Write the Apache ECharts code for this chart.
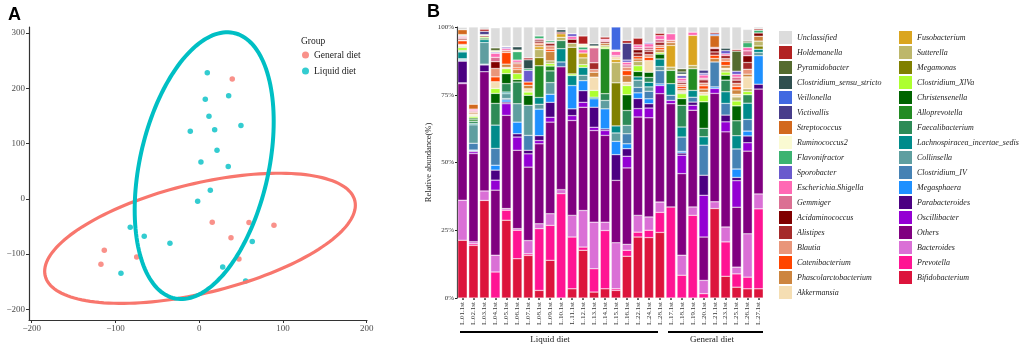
<!DOCTYPE html>
<html>
<head>
<meta charset="utf-8">
<script src="https://cdn.jsdelivr.net/npm/echarts@6.0.0/dist/echarts.min.js"></script>
<style>
  html, body { margin: 0; padding: 0; background: #fff; }
  #chart { width: 1021px; height: 347px; }
</style>
</head>
<body>
<div id="chart"></div>
<script>
// ---- Panel A: PCoA scores ----
const generalX = [39.5, 15.6, 59.5, 89.3, 38, 47.5, -113.3, -117.3, -74.6];
const generalY = [216.7, -42.4, -43.1, -47.8, -70.3, -108.9, -93.1, -118.5, -105.3];
const liquidX = [9.7, 7.3, 35.2, 11.7, 49.9, -10.6, 18.5, 21.3, 2.1, 34.7, 13.3, -1.8, -82.3, -65.6, -34.9, 63.4, -93.4, 28.1, 55.5];
const liquidY = [228.1, 180.4, 186.4, 149.6, 132.6, 122.5, 124.8, 88, 66.8, 58.3, 15.6, -4.3, -51.4, -67.8, -80.4, -77.5, -134.8, -123.4, -148.7];

// confidence ellipses: centre, spread and correlation (General, Liquid)
const ellipseCx = [1, 6];
const ellipseCy = [-71.5, 60];
const ellipseSx = [185.5, 83];
const ellipseSy = [117.8, 241.5];
const ellipseR = [0.508, 0.331];

const xTicksA = [-200, -100, 0, 100, 200];
const yTicksA = [-200, -100, 0, 100, 200, 300];

// ---- Panel B: relative abundance ----
const samples = ['L.01.1st', 'L.02.1st', 'L.03.1st', 'L.04.1st', 'L.05.1st', 'L.06.1st', 'L.07.1st',
  'L.08.1st', 'L.09.1st', 'L.10.1st', 'L.11.1st', 'L.12.1st', 'L.13.1st', 'L.14.1st', 'L.15.1st',
  'L.16.1st', 'L.22.1st', 'L.24.1st', 'L.28.1st', 'L.17.1st', 'L.18.1st', 'L.19.1st', 'L.20.1st',
  'L.21.1st', 'L.23.1st', 'L.25.1st', 'L.26.1st', 'L.27.1st'];

const bifidobacterium = [21.3, 19.4, 36, 0, 28.7, 14.5, 15.7, 2.8, 13.9, 0, 3.4, 17.6, 2.2, 3.4, 2.8, 15.4, 22.5, 22.3, 24.2, 0, 0, 0, 0, 33, 8, 4, 3.4, 3.4];
const prevotella = [0, 0.6, 0, 9.6, 3.7, 10.5, 0.6, 22.8, 12.9, 38.5, 19.1, 1.2, 8.6, 21.5, 0.6, 2.2, 1.8, 2.7, 7.4, 33.6, 8.4, 30.5, 1.6, 0, 12.7, 4.9, 4.3, 29.5];
const bacteroides = [14.8, 0.8, 3.5, 6.2, 0.6, 0.6, 4.9, 1.8, 4.3, 1.5, 8, 13.5, 17.2, 3.1, 17, 2.2, 6.2, 4.9, 3.8, 0, 7.4, 3.1, 4.9, 2.5, 5.5, 2.5, 16, 5.5];
const others = [43, 32.5, 44, 24, 34.4, 28.9, 27.1, 29.5, 33.8, 45.3, 35, 38.1, 33.8, 32, 23, 28.2, 36.3, 36.6, 40, 38.1, 30.1, 35.7, 16, 40, 35.1, 22.1, 30.5, 38.7];
const oscillibacter = [0.3, 0.7, 0, 3.7, 4.3, 4.9, 4.9, 1.2, 1.8, 0, 1.8, 1.8, 1.2, 1.8, 0, 4.3, 3.1, 3.6, 3, 1.2, 6.8, 1.8, 15.4, 1.8, 3.7, 9.8, 3.1, 0];
const parabacteroides = [8, 0.3, 2.5, 3.7, 0.6, 1.2, 1.3, 1.8, 5.5, 0, 2.5, 4.3, 7.4, 0.6, 9.5, 2.8, 3.7, 1.6, 0, 0, 0.8, 1.2, 7.4, 0, 2.5, 1.2, 2.5, 1.8];
const megasphaera = [0.3, 0.3, 0, 1.8, 0.8, 4.3, 0, 9.8, 3, 0, 8.6, 3.7, 3.1, 7.4, 4.9, 1.8, 2.1, 1.8, 0.6, 0, 0.6, 0, 0, 0.6, 0, 3.1, 1.8, 10.5];
const clostridiumIV = [0.3, 2.5, 0.3, 6.2, 0.5, 0, 5.5, 0, 0, 1.8, 0, 0, 0, 0, 0, 3.7, 2, 2.8, 4.9, 1.9, 5.3, 1.8, 11.1, 9.2, 4.3, 7.4, 4.3, 0];
const collinsella = [0.3, 6.8, 8, 0, 1.8, 6.8, 11.1, 1.8, 4.3, 0, 0, 2, 0, 3.1, 3.1, 3.1, 2.7, 1.6, 1.5, 0, 0, 0, 0, 0, 0, 0, 0, 1.2];
const lachnospiracea = [2.5, 0.5, 1, 8.6, 0.6, 0, 0, 2.5, 0, 4.9, 3.7, 2.9, 0.6, 0, 2.6, 0, 1.2, 1.7, 2.8, 4.3, 3.7, 2.5, 3.1, 0, 4.3, 4.9, 6, 1.2];
const faecalibacterium = [0.3, 0.8, 0, 8, 3.1, 8, 0, 0, 4.3, 3, 0, 0, 0, 2.5, 0, 5.5, 0, 1.8, 0, 0, 8, 0, 3.1, 0, 4.3, 5.5, 3.1, 0];
const alloprevotella = [0.3, 0.6, 0.6, 0, 0, 0, 0, 11.7, 1.8, 0, 0, 0, 0, 16.6, 0, 0, 0, 0, 0, 4.9, 0, 8, 0, 0, 0, 0, 0, 0];
const christensenella = [0, 0.6, 0, 3.7, 3.7, 0.9, 3.7, 0, 0, 0, 0, 0, 0, 0, 0, 5.8, 2, 1.9, 1.8, 0, 2.5, 0, 9.8, 0, 1.8, 5.5, 0, 0];
const clostridiumXlVa = [1, 0.6, 0.4, 1.8, 1.8, 2.2, 1.2, 0, 0.9, 0, 0.6, 1, 2.5, 0.6, 0, 3.4, 2.1, 0, 0.6, 0, 1.8, 0, 2.5, 0, 1.2, 1.8, 1.2, 0];
const megamonas = [0, 0, 0, 0, 0, 0, 0, 3, 0, 0, 9.8, 0, 0, 0, 15.9, 0, 0, 0, 0, 0, 0, 0, 0, 0, 0, 0, 0, 1.2];
const sutterella = [0.3, 0.3, 0, 0, 0, 0, 0, 3, 1, 1.2, 1.5, 2.5, 0, 0.6, 7.5, 0, 1.6, 0, 0, 1.2, 0.5, 1.2, 0, 0, 0.8, 1.5, 1, 1.8];
const fusobacterium = [0.3, 0, 0, 0, 0, 0, 0, 1, 0, 1.3, 0, 1.8, 0, 0, 1.1, 0, 0, 0, 0, 8, 0, 11.1, 0, 0, 0, 0, 0, 0];
const akkermansia = [0.3, 0.5, 0, 2.5, 0.5, 0, 1.2, 0, 0, 0, 0, 0, 4.9, 0, 1, 1.2, 0, 4.3, 0, 0, 0.6, 0, 1, 0, 0.6, 1, 4.4, 0];
const phascolarctobacterium = [0.3, 0.5, 0, 0, 1.2, 1.5, 1.3, 0.8, 3.5, 0, 0, 0, 1.8, 0.8, 0, 2.5, 0.9, 0, 1, 1, 0.8, 0, 1.2, 1.3, 1, 1.6, 1, 1.8];
const catenibacterium = [1.3, 0, 0, 1.8, 4.3, 0.6, 1.2, 0.5, 0.8, 0, 0, 0, 0, 0, 0, 1.8, 0.9, 1.2, 0.8, 0, 0.8, 0, 1.2, 1.2, 1.5, 1.2, 0, 0];
const blautia = [0.3, 0.4, 0, 3.1, 0.8, 1.6, 0, 0, 1.2, 0, 0, 0, 1, 0, 0, 1.3, 0, 1, 0.8, 0.9, 0.8, 0, 1, 0, 1, 1.2, 1.8, 0];
const alistipes = [0.5, 0, 0.5, 0, 0, 0.5, 0, 0.6, 1, 0, 0, 0, 2.5, 0.6, 0, 0, 1.3, 1.3, 1.2, 0, 0.7, 0, 1.2, 1.2, 1.2, 1.2, 2.5, 0];
const acidaminococcus = [0, 0, 0, 2.5, 0, 0, 0, 0.6, 0, 0.6, 1.5, 0, 0, 0, 0, 0, 1.2, 0.5, 0, 0, 0, 0, 0, 1.2, 0, 0, 2.5, 1.2];
const gemmiger = [0.5, 0.4, 0, 1.6, 0, 0, 0, 0, 0, 0, 0, 0, 5.5, 0.4, 0.5, 0.8, 0.8, 1, 1, 0, 0.5, 0, 0.6, 0.5, 0, 1.1, 1.8, 0];
const escherichia = [0.4, 0.6, 0, 1.5, 0.7, 0.8, 0, 0.5, 0.3, 0, 1, 1.2, 0, 0.5, 1.5, 1, 1, 1.2, 1.4, 2.4, 1, 1.2, 1.2, 0, 0.6, 1, 1.2, 0];
const sporobacter = [0, 0, 0, 0.4, 0.5, 0, 4.3, 0, 0, 0, 1, 0, 0, 0, 0, 0.8, 0, 0.5, 0, 0, 1, 0, 0.6, 0, 1.2, 1.2, 0, 0];
const flavonifractor = [0.3, 0, 0, 0, 0, 3.1, 0.6, 1, 0.6, 0, 0, 1, 0, 0, 0, 0, 0, 0, 0, 0, 0, 0, 0, 0, 0, 0, 1.8, 1];
const ruminococcus2 = [0.3, 0, 0.4, 0.6, 0.3, 0.6, 0, 0, 0, 0, 0, 1.1, 0.7, 0, 0.5, 0, 0, 0, 0, 0, 0.5, 0, 0, 0, 0, 0, 0, 0];
const streptococcus = [1.8, 1.8, 0, 0, 0, 0, 0, 0, 0, 0, 0, 0, 0, 0, 0, 0, 0, 0, 0, 0, 0, 0, 0, 4.3, 0, 0, 0, 0];
const victivallis = [0, 0, 1.2, 0, 0, 0, 0, 0, 0, 0, 0, 0, 0, 0, 0, 6.2, 0, 0, 0, 0, 0, 0, 1.2, 0, 0, 0, 0, 0];
const veillonella = [0, 0, 0, 0, 0, 0, 0, 0, 0, 0, 0, 0, 0, 0, 8.5, 0, 0, 0, 0, 0, 0, 0, 0, 0.6, 0, 0, 0, 0];
const clostridiumSS = [0, 0, 0, 0, 0, 1.2, 3.3, 0, 0, 0.9, 0, 0, 0.8, 0, 0, 0, 0, 0, 0, 0, 0.8, 0, 0, 0, 0.9, 0, 0, 0];
const pyramidobacter = [0, 0, 0, 1, 0, 0, 0, 0, 0, 0, 0, 0, 0, 0, 0, 0, 0, 0, 0, 0, 1.2, 0, 0, 0, 0, 7.4, 0.6, 0];
const holdemanella = [0, 0, 0.8, 0, 0, 0, 0.7, 0, 0, 0, 0, 3, 0, 0.8, 0, 1, 2.5, 0, 0.9, 0, 0, 0, 0, 0.6, 0, 0.6, 0, 0.5];
const unclassified = [0.9, 28.5, 0.8, 7.4, 7.1, 7.3, 11.4, 3.3, 5.1, 1, 2.5, 3.3, 6.2, 3.7, 0, 5, 4.1, 5.7, 2.3, 2.5, 15.4, 1.9, 15.9, 2, 7.8, 8.3, 4.3, 0.7];

// stack order, bottom to top
const taxaNames = ['Bifidobacterium', 'Prevotella', 'Bacteroides', 'Others', 'Oscillibacter',
  'Parabacteroides', 'Megasphaera', 'Clostridium_IV', 'Collinsella', 'Lachnospiracea_incertae_sedis',
  'Faecalibacterium', 'Alloprevotella', 'Christensenella', 'Clostridium_XlVa', 'Megamonas',
  'Sutterella', 'Fusobacterium', 'Akkermansia', 'Phascolarctobacterium', 'Catenibacterium',
  'Blautia', 'Alistipes', 'Acidaminococcus', 'Gemmiger', 'Escherichia.Shigella', 'Sporobacter',
  'Flavonifractor', 'Ruminococcus2', 'Streptococcus', 'Victivallis', 'Veillonella',
  'Clostridium_sensu_stricto', 'Pyramidobacter', 'Holdemanella', 'Unclassified'];
const taxaValues = [bifidobacterium, prevotella, bacteroides, others, oscillibacter,
  parabacteroides, megasphaera, clostridiumIV, collinsella, lachnospiracea,
  faecalibacterium, alloprevotella, christensenella, clostridiumXlVa, megamonas,
  sutterella, fusobacterium, akkermansia, phascolarctobacterium, catenibacterium,
  blautia, alistipes, acidaminococcus, gemmiger, escherichia, sporobacter,
  flavonifractor, ruminococcus2, streptococcus, victivallis, veillonella,
  clostridiumSS, pyramidobacter, holdemanella, unclassified];
const taxaColors = ['#DC143C', '#FF1493', '#DA70D6', '#800080', '#9400D3',
  '#4B0082', '#1E90FF', '#4682B4', '#5F9EA0', '#008B8B',
  '#2E8B57', '#228B22', '#006400', '#ADFF2F', '#808000',
  '#BDB76B', '#DAA520', '#F5DEB3', '#CD853F', '#FF4500',
  '#E9967A', '#A52A2A', '#800000', '#DB7093', '#FF69B4', '#6A5ACD',
  '#3CB371', '#FAFAD2', '#D2691E', '#483D8B', '#4169E1',
  '#2F4F4F', '#556B2F', '#B22222', '#DCDCDC'];

const legendColumn1 = taxaNames.slice(17).reverse();
const legendColumn2 = taxaNames.slice(0, 17).reverse();

const serif = '"Liberation Serif", "DejaVu Serif", serif';
const minus = (v) => String(v).replace('-', '\u2212');

const chart = echarts.init(document.getElementById('chart'));

const barSeries = taxaNames.map((name, i) => ({
  name: name,
  type: 'bar',
  stack: 'abundance',
  xAxisIndex: 1,
  yAxisIndex: 1,
  barWidth: 9.4,
  data: taxaValues[i].map((v) => (v === 0 ? null : v)),
  itemStyle: { color: taxaColors[i], borderColor: '#fff', borderWidth: 0.4 },
  emphasis: { disabled: true }
}));

function renderEllipse(params, api) {
  const i = params.dataIndex;
  const pts = [];
  const r = ellipseR[i];
  for (let k = 0; k <= 160; k++) {
    const t = (k / 160) * Math.PI * 2;
    const x = ellipseCx[i] + ellipseSx[i] * Math.cos(t);
    const y = ellipseCy[i] + ellipseSy[i] * (r * Math.cos(t) + Math.sqrt(1 - r * r) * Math.sin(t));
    pts.push(api.coord([x, y]));
  }
  return {
    type: 'polyline',
    shape: { points: pts },
    style: { stroke: i === 0 ? '#F8766D' : '#00BFC4', lineWidth: i === 0 ? 3.2 : 4, fill: null }
  };
}

const option = {
  animation: false,
  backgroundColor: '#fff',
  grid: [
    { left: 29, top: 27, width: 338, height: 293 },
    { left: 457, top: 27, width: 307, height: 271 }
  ],
  xAxis: [
    {
      type: 'value', gridIndex: 0, min: -203.2, max: 200.4,
      axisLine: { onZero: false, lineStyle: { color: '#333', width: 1.2 } },
      axisTick: { show: true, length: 3, customValues: xTicksA, lineStyle: { color: '#333' } },
      axisLabel: { customValues: xTicksA, formatter: minus, fontFamily: serif, fontSize: 9, color: '#4d4d4d', margin: 4 },
      splitLine: { show: false }
    },
    {
      type: 'category', gridIndex: 1, data: samples,
      axisLine: { show: false },
      axisTick: { show: true, alignWithLabel: true, length: 2, lineStyle: { color: '#333', width: 1.5 } },
      axisLabel: { rotate: 90, fontFamily: serif, fontSize: 7, color: '#333', margin: 4, interval: 0 }
    }
  ],
  yAxis: [
    {
      type: 'value', gridIndex: 0, min: -219.4, max: 311,
      axisLine: { show: true, onZero: false, lineStyle: { color: '#333', width: 1.2 } },
      axisTick: { show: true, length: 3, customValues: yTicksA, lineStyle: { color: '#333' } },
      axisLabel: { customValues: yTicksA, formatter: minus, fontFamily: serif, fontSize: 9, color: '#4d4d4d', margin: 4 },
      splitLine: { show: false }
    },
    {
      type: 'value', gridIndex: 1, min: 0, max: 100, interval: 25,
      name: 'Relative abundance(%)', nameLocation: 'middle', nameGap: 24, nameRotate: 90,
      nameTextStyle: { fontFamily: serif, fontSize: 8.5, color: '#222' },
      axisLine: { show: true, onZero: false, lineStyle: { color: '#222', width: 1.2 } },
      axisTick: { show: true, length: 2, lineStyle: { color: '#222' } },
      axisLabel: { formatter: '{value}%', fontFamily: serif, fontSize: 7, color: '#333', margin: 3 },
      splitLine: { show: false }
    }
  ],
  legend: [
    {
      data: ['General diet', 'Liquid diet'], left: 302, top: 50, orient: 'vertical',
      icon: 'circle', itemWidth: 7, itemHeight: 7, itemGap: 6, padding: 0, selectedMode: false,
      textStyle: { fontFamily: serif, fontSize: 9.5, color: '#222' }
    },
    {
      data: legendColumn1, left: 779, top: 31, orient: 'vertical', icon: 'rect',
      itemWidth: 13, itemHeight: 13, itemGap: 2, padding: 0, selectedMode: false,
      itemStyle: { borderWidth: 0 },
      textStyle: { fontFamily: serif, fontStyle: 'italic', fontSize: 8, color: '#222' }
    },
    {
      data: legendColumn2, left: 899, top: 31, orient: 'vertical', icon: 'rect',
      itemWidth: 13, itemHeight: 13, itemGap: 2, padding: 0, selectedMode: false,
      itemStyle: { borderWidth: 0 },
      textStyle: { fontFamily: serif, fontStyle: 'italic', fontSize: 8, color: '#222' }
    }
  ],
  graphic: [
    { type: 'text', left: 8, top: 6, style: { text: 'A', font: 'bold 18px "Liberation Sans", Arial, sans-serif', fill: '#000' } },
    { type: 'text', left: 427, top: 3, style: { text: 'B', font: 'bold 18px "Liberation Sans", Arial, sans-serif', fill: '#000' } },
    { type: 'text', left: 301, top: 36, style: { text: 'Group', font: '9.5px ' + serif, fill: '#222' } },
    { type: 'line', shape: { x1: 460, y1: 332, x2: 658, y2: 332 }, style: { stroke: '#000', lineWidth: 2 } },
    { type: 'line', shape: { x1: 668, y1: 332, x2: 763, y2: 332 }, style: { stroke: '#000', lineWidth: 2 } },
    { type: 'text', x: 550, y: 340, style: { text: 'Liquid diet', font: '9px ' + serif, fill: '#222', textAlign: 'center', textVerticalAlign: 'middle' } },
    { type: 'text', x: 712, y: 340, style: { text: 'General diet', font: '9px ' + serif, fill: '#222', textAlign: 'center', textVerticalAlign: 'middle' } }
  ],
  series: [
    {
      name: 'General diet', type: 'scatter', xAxisIndex: 0, yAxisIndex: 0,
      symbolSize: 5.5, itemStyle: { color: '#F8766D' }, z: 2,
      data: generalX.map((x, i) => [x, generalY[i]])
    },
    {
      name: 'Liquid diet', type: 'scatter', xAxisIndex: 0, yAxisIndex: 0,
      symbolSize: 5.5, itemStyle: { color: '#00BFC4' }, z: 2,
      data: liquidX.map((x, i) => [x, liquidY[i]])
    },
    {
      name: 'ellipses', type: 'custom', xAxisIndex: 0, yAxisIndex: 0, z: 3,
      renderItem: renderEllipse,
      data: ellipseCx.map((x, i) => [x, ellipseCy[i]])
    }
  ].concat(barSeries)
};

chart.setOption(option);
</script>
</body>
</html>
